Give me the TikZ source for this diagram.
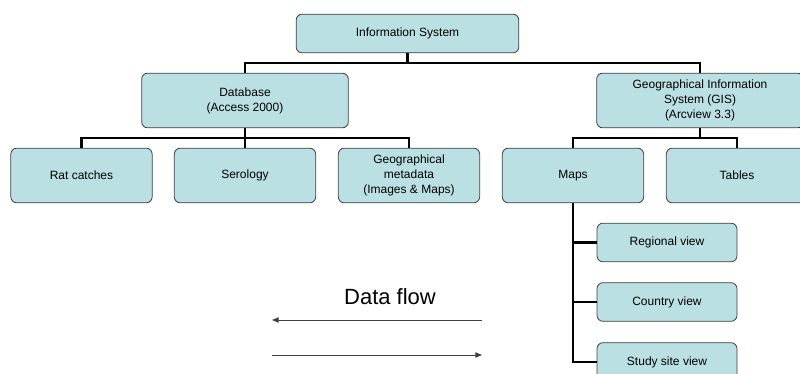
\documentclass[tikz,border=0pt]{standalone}
\usepackage{fontspec}
\setmainfont{Liberation Sans}
\usetikzlibrary{arrows.meta}
\definecolor{boxfill}{RGB}{187,224,227}
\begin{document}
\begin{tikzpicture}[
    x=0.75pt, y=0.75pt,
    every node/.style = {align=center, font=\fontsize{9}{11.25}\selectfont},
    box/.style = {draw=black!75, fill=boxfill, rounded corners=4.5pt, line width=0.6pt, inner sep=0pt},
    topbox/.style = {box, minimum width=167pt, minimum height=29pt},
    midbox/.style = {box, minimum width=155pt, minimum height=41pt},
    leafbox/.style = {box, minimum width=106pt, minimum height=41pt},
    viewbox/.style = {box, minimum width=105pt, minimum height=29pt},
    conn/.style = {draw, line width=1.9pt},
    flow/.style = {draw=black!75, line width=0.7pt, -{Triangle[length=5pt,width=4pt]}}
    ]
    \useasboundingbox (0,0) rectangle (800,-374);
    \node[topbox] (info) at (407.5,-33.5) {Information System};
    \node[midbox] (db) at (245,-100.5) {Database\\(Access 2000)};
    \node[midbox] (gis) at (700,-100.5) {Geographical Information\\System (GIS)\\(Arcview 3.3)};
    \node[leafbox] (rats) at (81.5,-175.5) {Rat catches};
    \node[leafbox] (sero) at (245,-175.5) {Serology};
    \node[leafbox] (geometa) at (409,-175.5) {Geographical\\metadata\\(Images \& Maps)};
    \node[leafbox] (maps) at (573,-175.5) {Maps};
    \node[leafbox] (tables) at (737,-175.5) {Tables};
    \node[viewbox] (regional) at (667,-242.5) {Regional view};
    \node[viewbox] (country) at (667,-302) {Country view};
    \node[viewbox] (study) at (667,-362) {Study site view};
    % tree lines
    \draw[conn] (info.south) -- ++(0,-10) -| (db.north);
    \draw[conn] (info.south) -- ++(0,-10) -| (gis.north);
    \draw[conn] (db.south) -- ++(0,-10) -| (rats.north);
    \draw[conn] (db.south) -- ++(0,-10) -| (sero.north);
    \draw[conn] (db.south) -- ++(0,-10) -| (geometa.north);
    \draw[conn] (gis.south) -- ++(0,-10) -| (maps.north);
    \draw[conn] (gis.south) -- ++(0,-10) -| (tables.north);
    \draw[conn] (maps.south) |- (regional.west);
    \draw[conn] (maps.south) |- (country.west);
    \draw[conn] (maps.south) |- (study.west);
    % data flow
    \node[font=\fontsize{16.5}{20}\selectfont] (flowlabel) at (390,-297) {Data flow};
    \coordinate (backR) at (482,-320);
    \coordinate (backL) at (272,-320);
    \coordinate (fwdL) at (272,-355);
    \coordinate (fwdR) at (482,-355);
    \draw[flow] (backR) -- (backL);
    \draw[flow] (fwdL) -- (fwdR);
\end{tikzpicture}
\end{document}
